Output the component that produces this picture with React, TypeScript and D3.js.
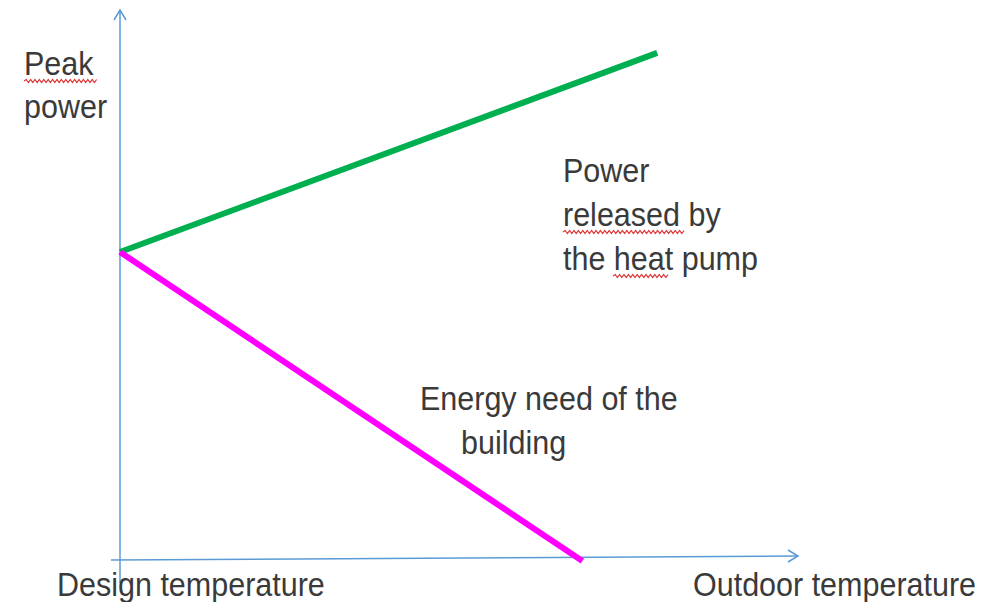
import React from "react";
import * as d3 from "d3";

// Conceptual data (arbitrary units: temperature 0..100, power 0..100)
const heatPumpT = [0, 79];
const heatPumpP = [56, 92.2];
const buildingT = [0, 68];
const buildingP = [56, -0.2];

const yLabelLines = ["Peak", "power"];
const xLabelLeft = "Design temperature";
const xLabelRight = "Outdoor temperature";
const heatPumpLabel = ["Power", "released by", "the heat pump"];
const buildingLabel = ["Energy need of the", "building"];

const W = 998;
const H = 602;

function wavy(x0: number, x1: number, y: number) {
  const step = 2.2;
  let d = `M${x0},${y}`;
  let up = true;
  for (let x = x0 + step; x <= x1; x += step) {
    d += ` L${x.toFixed(1)},${y + (up ? -1.5 : 1.5)}`;
    up = !up;
  }
  return d;
}

function T({ x, y, children }: { x: number; y: number; children: React.ReactNode }) {
  return (
    <text transform={`translate(${x},${y}) scale(1,1.07)`}>{children}</text>
  );
}

export default function App() {
  const x = d3.scaleLinear().domain([0, 100]).range([120, 800]);
  const y = d3.scaleLinear().domain([0, 100]).range([560, 10]);

  const line = d3
    .line<[number, number]>()
    .x((d) => x(d[0]))
    .y((d) => y(d[1]));

  const green = heatPumpT.map((t, i) => [t, heatPumpP[i]] as [number, number]);
  const magenta = buildingT.map((t, i) => [t, buildingP[i]] as [number, number]);

  const axisColor = "#5b9bd5";
  const textColor = "#3a3a3a";
  const font = "'Liberation Sans', Arial, sans-serif";
  const fs = 30.5;

  return (
    <svg
      width={W}
      height={H}
      style={{ position: "absolute", left: 0, top: 0, background: "#fff" }}
    >
      {/* axes */}
      <line x1={x(0)} y1={583} x2={x(0)} y2={10} stroke={axisColor} strokeWidth={1.5} />
      <path d={`M${x(0) - 6},${20} L${x(0)},${10} L${x(0) + 6},${20}`} fill="none" stroke={axisColor} strokeWidth={1.5} />
      <line x1={111} y1={560} x2={798} y2={556} stroke={axisColor} strokeWidth={1.5} />
      <path d={`M${788},${550} L${798},${556} L${788},${562}`} fill="none" stroke={axisColor} strokeWidth={1.5} />

      {/* lines */}
      <path d={line(green) || ""} fill="none" stroke="#00b050" strokeWidth={6} />
      <path d={line(magenta) || ""} fill="none" stroke="#ff00ff" strokeWidth={6} />

      <g fontFamily={font} fontSize={fs} fill={textColor}>
        {yLabelLines.map((t, i) => (
          <T key={t} x={24} y={75 + i * 43}>
            {t}
          </T>
        ))}
        <T x={57} y={596}>{xLabelLeft}</T>
        <T x={693} y={596}>{xLabelRight}</T>
        {heatPumpLabel.map((t, i) => (
          <T key={t} x={563} y={182 + i * 44}>
            {t}
          </T>
        ))}
        <T x={420} y={410}>{buildingLabel[0]}</T>
        <T x={461} y={454}>{buildingLabel[1]}</T>
      </g>

      {/* spell-check squiggles */}
      <g fill="none" stroke="#e03030" strokeWidth={1.2}>
        <path d={wavy(24, 97, 81)} />
        <path d={wavy(563, 685, 232)} />
        <path d={wavy(613, 670, 276)} />
      </g>
    </svg>
  );
}
